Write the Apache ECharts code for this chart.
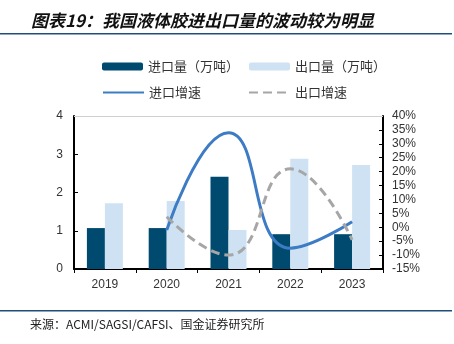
<!DOCTYPE html>
<html>
<head>
<meta charset="utf-8">
<script src="https://cdn.jsdelivr.net/npm/echarts@6/dist/echarts.min.js"></script>
<style>
  html, body { margin: 0; padding: 0; background: #fff; }
  #chart { width: 454px; height: 344px; }
</style>
</head>
<body>
<div id="chart"></div>
<script>
// 年份
const years = ['2019', '2020', '2021', '2022', '2023'];
// 进出口量（万吨）
const importVolume = [1.07, 1.07, 2.41, 0.91, 0.91];
const exportVolume = [1.72, 1.78, 1.02, 2.88, 2.72];
// 同比增速（%），2019 年无数据
const importGrowth = [null, -1, 34, -7.5, 2];
const exportGrowth = [null, 3.8, -10, 21, -4.5];

const navy = '#00496F';
const paleBlue = '#CFE2F3';
const lineBlue = '#3D7CC4';
const dashGray = '#A6A6A6';
const cjk = '"Noto Sans CJK SC", sans-serif';
const latin = 'Arial, "Liberation Sans", sans-serif';

const chart = echarts.init(document.getElementById('chart'), null, { renderer: 'canvas' });

chart.setOption({
  animation: false,
  backgroundColor: '#fff',
  graphic: [
    { type: 'text', left: 31, top: 12,
      style: { text: '图表19：我国液体胶进出口量的波动较为明显', font: 'italic bold 17px ' + cjk, fill: '#111' } },
    { type: 'rect', shape: { x: 0, y: 33, width: 452, height: 1.5 }, style: { fill: '#1F4E79' } },
    { type: 'rect', shape: { x: 0, y: 310, width: 452, height: 1.5 }, style: { fill: '#1F4E79' } },
    { type: 'text', left: 30, top: 318,
      style: { text: '来源：ACMI/SAGSI/CAFSI、国金证券研究所', font: '12px ' + cjk, fill: '#222' } }
  ],
  legend: [
    { left: 97, top: 55, itemWidth: 41, itemHeight: 8, itemGap: 10,
      textStyle: { fontFamily: cjk, fontSize: 13, color: '#333' },
      data: ['进口量（万吨）', '出口量（万吨）'] },
    { left: 97, top: 81, itemWidth: 41, itemHeight: 8, itemGap: 47,
      textStyle: { fontFamily: cjk, fontSize: 13, color: '#333' },
      itemStyle: { color: 'transparent', borderWidth: 0, opacity: 0 },
      data: ['进口增速', '出口增速'] }
  ],
  grid: { left: 74, right: 71, top: 116, bottom: 75, containLabel: false },
  xAxis: {
    type: 'category',
    data: years,
    axisLine: { lineStyle: { color: '#000', width: 2 } },
    axisTick: { show: true, alignWithLabel: false, length: 4, lineStyle: { color: '#000' } },
    axisLabel: { fontFamily: latin, fontSize: 12, color: '#333', margin: 10 }
  },
  yAxis: [
    {
      type: 'value', min: 0, max: 4, interval: 1,
      axisLine: { show: true, lineStyle: { color: '#000', width: 2 } },
      axisTick: { show: true, inside: true, length: 4, lineStyle: { color: '#000' } },
      axisLabel: { fontFamily: latin, fontSize: 12, color: '#333', margin: 11 },
      splitLine: { show: false }
    },
    {
      type: 'value', min: -15, max: 40, interval: 5,
      axisLine: { show: true, lineStyle: { color: '#000', width: 2 } },
      axisTick: { show: true, inside: true, length: 4, lineStyle: { color: '#000' } },
      axisLabel: { fontFamily: latin, fontSize: 12, color: '#333', margin: 9, formatter: '{value}%' },
      splitLine: { show: false }
    }
  ],
  series: [
    { name: '进口量（万吨）', type: 'bar', data: importVolume, barWidth: 18, barGap: '0%',
      itemStyle: { color: navy },
      markLine: { silent: true, symbol: 'none', label: { show: false },
        lineStyle: { color: '#D0D0D0', type: 'solid', width: 1 }, data: [{ yAxis: 4 }] } },
    { name: '出口量（万吨）', type: 'bar', data: exportVolume, barWidth: 18, barGap: '0%',
      itemStyle: { color: paleBlue } },
    { name: '进口增速', type: 'line', yAxisIndex: 1, data: importGrowth, smooth: 0.5,
      symbol: 'none', lineStyle: { color: lineBlue, width: 3 }, itemStyle: { color: lineBlue } },
    { name: '出口增速', type: 'line', yAxisIndex: 1, data: exportGrowth, smooth: 0.5,
      symbol: 'none', lineStyle: { color: dashGray, width: 3, type: [9, 5] }, itemStyle: { color: dashGray } }
  ]
});
</script>
</body>
</html>
